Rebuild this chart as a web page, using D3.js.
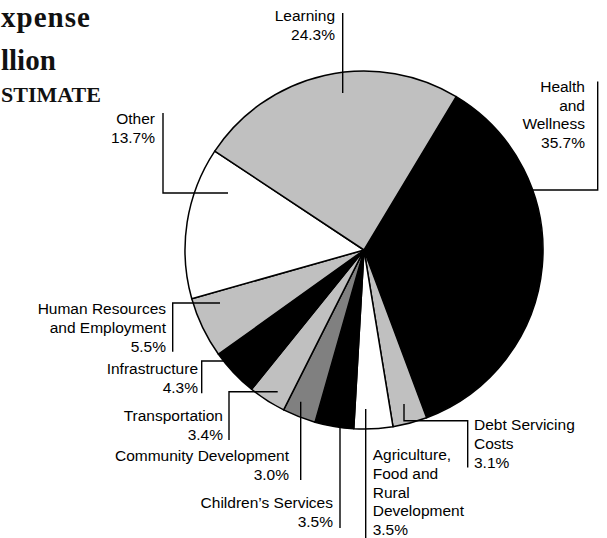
<!DOCTYPE html>
<html lang="en">

<head>
    <meta charset="UTF-8">
    <title>Expense Estimate Pie</title>
    <style>
        body {
            margin: 0;
            background: #fff;
        }

        .title {
            font-family: "Liberation Serif", "Times New Roman", serif;
            font-weight: bold;
            fill: #111;
        }

        .label {
            font-family: "Liberation Sans", Arial, sans-serif;
            font-size: 15.5px;
            fill: #000;
        }
    </style>
</head>

<body>
    <svg id="chart" width="607" height="538"></svg>

    <script src="https://d3js.org/d3.v7.min.js"></script>
    <script>
        // Slices, clockwise starting at Health and Wellness
        const categories = [
            "Health and Wellness", "Debt Servicing Costs", "Agriculture, Food and Rural Development",
            "Children’s Services", "Community Development", "Transportation", "Infrastructure",
            "Human Resources and Employment", "Other", "Learning"
        ];
        const shares = [35.7, 3.1, 3.5, 3.5, 3.0, 3.4, 4.3, 5.5, 13.7, 24.3];

        // label text as broken in the original (percent line added below)
        const labelLines = [
            ["Health", "and", "Wellness"],
            ["Debt Servicing", "Costs"],
            ["Agriculture,", "Food and", "Rural", "Development"],
            ["Children’s Services"],
            ["Community Development"],
            ["Transportation"],
            ["Infrastructure"],
            ["Human Resources", "and Employment"],
            ["Other"],
            ["Learning"]
        ];

        // only the part of the title that shows in the original crop
        const titleLines = ["xpense", "llion", "STIMATE"];

        // styling, same order as categories
        const fills = ["#000", "#c0c0c0", "#fff", "#000", "#808080", "#c0c0c0", "#000", "#c0c0c0", "#fff", "#c0c0c0"];

        // label placement + leader lines (annotation layout)
        const labelLayout = [
            { x: 585, y: 91.7, anchor: "end", leader: [[597.7, 81.5], [597.7, 190], [505, 190]] },
            { x: 474, y: 430, anchor: "start", leader: [[467.7, 467.5], [467.7, 420.7], [404, 420.7], [404, 404]] },
            { x: 372.7, y: 460, anchor: "start", leader: [[365.7, 540], [365.7, 409]] },
            { x: 333, y: 508.3, anchor: "end", leader: [[340, 528], [340, 415]] },
            { x: 289, y: 460.7, anchor: "end", leader: [[300.7, 480], [300.7, 401.7]] },
            { x: 223, y: 420.7, anchor: "end", leader: [[229, 440], [229, 391.7], [277.7, 391.7]] },
            { x: 198, y: 374.3, anchor: "end", leader: [[201.7, 393.3], [201.7, 361], [228, 361]] },
            { x: 166, y: 314, anchor: "end", leader: [[172.7, 351.7], [172.7, 303], [220, 303]] },
            { x: 155, y: 124, anchor: "end", leader: [[163, 113], [163, 193], [228, 193]] },
            { x: 335, y: 21, anchor: "end", leader: [[342.7, 13], [342.7, 93]] }
        ];

        const lineHeight = 18.8;
        const cx = 364, cy = 250, radius = 179;
        const startDeg = 31;

        const svg = d3.select("#chart");

        // ---- pie ----
        const pie = d3.pie()
            .sort(null)
            .value(d => d)
            .startAngle(startDeg * Math.PI / 180)
            .endAngle((startDeg + 360) * Math.PI / 180);

        const arc = d3.arc().innerRadius(0).outerRadius(radius);

        const pieGroup = svg.append("g")
            .attr("transform", `translate(${cx},${cy})`);

        pieGroup.selectAll("path")
            .data(pie(shares))
            .enter().append("path")
            .attr("d", arc)
            .attr("fill", (d, i) => fills[i])
            .attr("stroke", "#000")
            .attr("stroke-width", 1.5)
            .attr("stroke-linejoin", "round");

        // ---- leader lines ----
        const line = d3.line();
        svg.append("g")
            .selectAll("path")
            .data(labelLayout)
            .enter().append("path")
            .attr("d", d => line(d.leader))
            .attr("fill", "none")
            .attr("stroke", "#000")
            .attr("stroke-width", 1.4);

        // ---- labels ----
        const pct = d3.format(".1f");
        const labels = svg.append("g")
            .selectAll("text")
            .data(categories)
            .enter().append("text")
            .attr("class", "label")
            .attr("text-anchor", (d, i) => labelLayout[i].anchor);

        labels.each(function (d, i) {
            const lay = labelLayout[i];
            const lines = labelLines[i].concat([pct(shares[i]) + "%"]);
            d3.select(this).selectAll("tspan")
                .data(lines)
                .enter().append("tspan")
                .attr("x", lay.x)
                .attr("y", (t, j) => lay.y + j * lineHeight)
                .text(t => t);
        });

        // ---- title ----
        const titleSizes = [29, 29, 22];
        const titleBase = [27, 70, 101.5];
        svg.append("g")
            .selectAll("text")
            .data(titleLines)
            .enter().append("text")
            .attr("class", "title")
            .attr("x", 1)
            .attr("y", (d, i) => titleBase[i])
            .attr("font-size", (d, i) => titleSizes[i])
            .attr("letter-spacing", (d, i) => i === 0 ? 1 : 0)
            .text(d => d);
    </script>
</body>

</html>
